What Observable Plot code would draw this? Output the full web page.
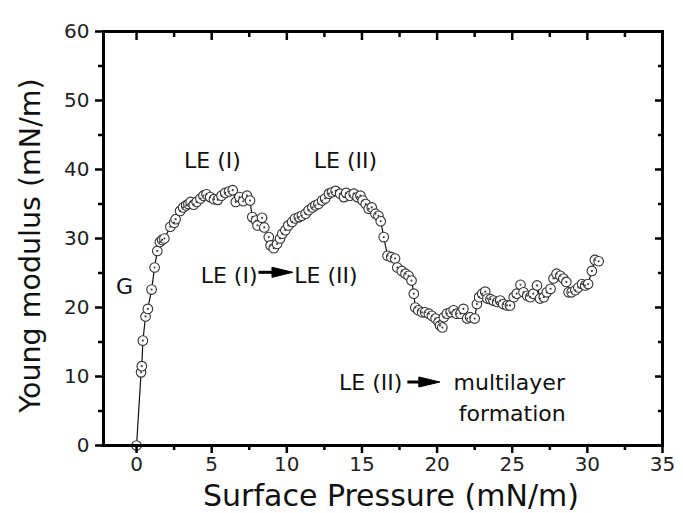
<!DOCTYPE html>
<html><head><meta charset="utf-8">
<script src="https://cdn.jsdelivr.net/npm/d3@7"></script>
<script src="https://cdn.jsdelivr.net/npm/@observablehq/plot@0.6"></script>
<style>body{margin:0;background:#fff;} #chart svg{font-family:"DejaVu Sans",sans-serif;}</style>
</head><body><div id="chart"></div>
<script>
const pressure = [0.0,0.30,0.35,0.42,0.60,0.75,1.0,1.2,1.38,1.55,1.7,1.85,2.25,2.5,2.6,2.9,3.1,3.3,3.45,3.6,3.8,4.0,4.25,4.45,4.65,4.9,5.15,5.4,5.65,5.9,6.15,6.4,6.6,6.85,7.1,7.35,7.55,7.7,7.95,8.05,8.35,8.5,8.8,8.92,9.13,9.35,9.55,9.7,9.9,10.1,10.35,10.55,10.8,11.0,11.25,11.45,11.7,11.9,12.1,12.35,12.55,12.8,13.0,13.25,13.55,13.8,13.95,14.2,14.45,14.7,14.9,15.05,15.25,15.45,15.65,15.9,16.1,16.25,16.45,16.7,16.95,17.2,17.35,17.65,17.9,18.1,18.3,18.45,18.55,18.75,19.0,19.2,19.45,19.65,19.9,20.1,20.2,20.35,20.45,20.65,20.9,21.1,21.3,21.55,21.75,22.0,22.2,22.5,22.65,22.8,23.0,23.2,23.35,23.55,23.75,24.0,24.2,24.4,24.65,24.85,25.1,25.3,25.55,25.75,26.0,26.2,26.4,26.65,26.85,27.1,27.3,27.55,27.75,27.95,28.2,28.4,28.6,28.75,28.95,29.2,29.4,29.65,29.85,30.05,30.3,30.5,30.75];
const modulus = [0.0,10.6,11.5,15.2,18.7,19.8,22.6,25.8,28.2,29.5,29.8,30.0,31.7,32.3,32.8,34.0,34.5,34.8,35.0,35.3,34.9,35.3,35.8,36.2,36.4,36.0,35.7,35.6,36.2,36.6,36.8,37.0,35.3,36.0,35.4,36.2,35.5,33.1,32.6,31.9,33.0,31.6,30.2,29.0,28.6,29.2,30.0,30.7,31.2,31.9,32.4,32.9,33.1,33.3,33.6,34.1,34.5,34.8,35.0,35.5,35.8,36.5,36.7,36.9,36.5,36.0,36.6,36.2,36.5,36.0,36.2,35.5,35.0,34.3,34.5,33.6,33.3,32.5,30.2,27.5,27.3,27.1,25.8,25.3,24.9,24.6,23.9,22.0,20.0,19.6,19.3,19.3,19.1,18.8,18.4,17.9,17.4,17.1,18.6,19.1,19.3,19.6,19.1,19.1,19.8,18.4,18.6,18.4,20.5,21.5,22.0,22.3,21.3,21.2,21.0,20.8,21.0,20.5,20.3,20.3,21.5,22.0,23.3,22.2,21.7,21.5,22.0,23.2,21.3,21.5,22.2,22.7,24.2,24.9,24.6,24.2,23.7,22.2,22.2,22.5,22.9,23.4,23.2,23.4,25.3,26.9,26.7];
const xTicks = [0,5,10,15,20,25,30,35];
const xMinor = [2.5,7.5,12.5,17.5,22.5,27.5,32.5];
const yTicks = [0,10,20,30,40,50,60];
const yMinor = [5,15,25,35,45,55];
const xTitle = "Surface Pressure (mN/m)";
const yTitle = "Young modulus (mN/m)";
const labelText = ["G","LE (I)","LE (II)","LE (I)","LE (II)","LE (II)","multilayer","formation"];
const labelX =    [-0.8, 5.05, 13.9, 8.05, 10.5, 17.69, 24.8, 25.0];
const labelY =    [23.0, 41.3, 41.2, 24.6, 24.6, 9.0, 9.0, 4.6];
const labelAnchor = ["middle","middle","middle","end","start","end","middle","middle"];
const arrowX1 = [8.11, 18.02];
const arrowX2 = [9.71, 19.48];
const arrowY  = [25.1, 9.2];

const data = pressure.map((x, i) => ({x, y: modulus[i]}));
const labels = labelText.map((t, i) => ({text: t, x: labelX[i], y: labelY[i], anchor: labelAnchor[i]}));
const arrows = arrowX1.map((x1, i) => ({x1, x2: arrowX2[i], y: arrowY[i]}));

const headSymbol = {draw(ctx, size) {
  const r = Math.sqrt(size / Math.PI);
  ctx.moveTo(r, 0); ctx.lineTo(-r, -r * 0.48); ctx.lineTo(-r, r * 0.48); ctx.closePath();
}};

const textMarks = ["start","middle","end"].map(a =>
  Plot.text(labels.filter(d => d.anchor === a), {x: "x", y: "y", text: "text", textAnchor: a, fontSize: 22, fill: "#111"}));

const chart = Plot.plot({
  width: 683, height: 513,
  marginLeft: 103, marginRight: 21, marginTop: 31, marginBottom: 68,
  x: {domain: [-2.2, 35]},
  y: {domain: [0, 60]},
  style: {fontFamily: "DejaVu Sans", background: "white"},
  marks: [
    Plot.line(data, {x: "x", y: "y", stroke: "#111", strokeWidth: 1.2}),
    Plot.dot(data, {x: "x", y: "y", r: 4.8, fill: "white", stroke: "#333", strokeWidth: 1.1}),
    Plot.dot(data, {x: "x", y: "y", r: 1.1, fill: "#444"}),
    ...textMarks,
    Plot.link(arrows, {x1: "x1", x2: "x2", y1: "y", y2: "y", stroke: "black", strokeWidth: 3}),
    Plot.dot(arrows, {x: "x2", y: "y", symbol: headSymbol, r: 10.5, fill: "black", stroke: "black", strokeWidth: 1}),
    Plot.axisX(xTicks, {anchor: "bottom", tickSize: 8, tickPadding: 3, strokeWidth: 2.5, fontSize: 20, label: null, fill: "#222"}),
    Plot.axisX(xMinor, {anchor: "bottom", tickSize: 5, strokeWidth: 2.5, tickFormat: () => "", label: null}),
    Plot.axisX(xTicks, {anchor: "top", tickSize: -8, strokeWidth: 2.5, tickFormat: () => "", label: null}),
    Plot.axisX(xMinor, {anchor: "top", tickSize: -5, strokeWidth: 2.5, tickFormat: () => "", label: null}),
    Plot.axisY(yTicks, {anchor: "left", tickSize: 8, tickPadding: 6, strokeWidth: 2.5, fontSize: 20, label: null, fill: "#222"}),
    Plot.axisY(yMinor, {anchor: "left", tickSize: 5, strokeWidth: 2.5, tickFormat: () => "", label: null}),
    Plot.axisY(yTicks, {anchor: "right", tickSize: -8, strokeWidth: 2.5, tickFormat: () => "", label: null}),
    Plot.axisY(yMinor, {anchor: "right", tickSize: -5, strokeWidth: 2.5, tickFormat: () => "", label: null}),
    Plot.frame({stroke: "black", strokeWidth: 3}),
    Plot.text([xTitle], {frameAnchor: "bottom", textAnchor: "middle", lineAnchor: "middle", dx: 8, dy: 51, fontSize: 30, fill: "#111"}),
    Plot.text([yTitle], {frameAnchor: "left", textAnchor: "middle", lineAnchor: "middle", dx: -73, dy: 7, rotate: -90, fontSize: 28.5, fill: "#111"})
  ]
});
document.getElementById("chart").append(chart);
</script>
</body></html>
